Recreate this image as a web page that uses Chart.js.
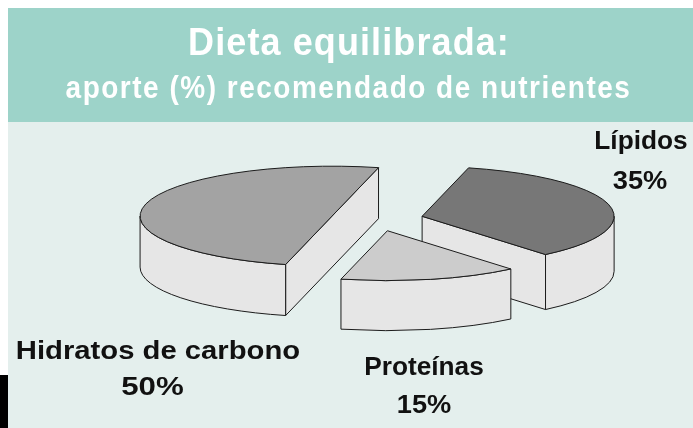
<!DOCTYPE html>
<html><head><meta charset="utf-8">
<style>html,body{margin:0;padding:0;background:#fff;overflow:hidden}#w{position:relative;width:693px;height:428px}</style>
<script src="https://cdn.jsdelivr.net/npm/chart.js@4"></script>
</head><body><div id="w"><canvas id="c" width="693" height="428"></canvas></div>
<script>
const titleMain = 'Dieta equilibrada:';
const titleSub = 'aporte (%) recomendado de nutrientes';
const categories = ['Lípidos', 'Proteínas', 'Hidratos de carbono'];
const values = [35, 15, 50];
const valueLabels = ['35%', '15%', '50%'];
const sliceColors = ['#777777', '#cccccc', '#a3a3a3'];

const SQUASH = 0.26, EXPLODE = 46.3, WALL = '#e6e6e6', EDGE = '#1c1c1c';
const wallDepths = [55, 50, 51];
const labelStyle = [
  {x: 641, y: 149, sx: 1.05, vx: 640, vy: 189, vsx: 1.09},
  {x: 424, y: 375, sx: 1.05, vx: 424, vy: 413, vsx: 1.09},
  {x: 158, y: 359, sx: 1.17, vx: 152.5, vy: 395, vsx: 1.25}
];

function centre(chart){ return (chart.chartArea.top + chart.chartArea.bottom) / 2; }
function geom(el, cy){
  return {x: el.x, dy: el.y - cy, s: el.startAngle, e: el.endAngle, r: el.outerRadius};
}
const TAU = Math.PI * 2;
function drawWalls(chart, ctx){
  const cy = centre(chart), arcs = chart.getDatasetMeta(0).data;
  const order = arcs.map((a, i) => i).sort((a, b) => arcs[a].y - arcs[b].y);
  ctx.save();
  ctx.fillStyle = WALL; ctx.strokeStyle = EDGE; ctx.lineWidth = 1; ctx.lineJoin = 'round';
  for (const i of order) {
    const g = geom(arcs[i], cy), d = wallDepths[i];
    const ax = g.x, ay = cy + g.dy * SQUASH, ry = g.r * SQUASH;
    const rim = (t) => [ax + Math.cos(t) * g.r, ay + Math.sin(t) * ry];
    const face = (p, q) => {
      ctx.beginPath(); ctx.moveTo(p[0], p[1]); ctx.lineTo(q[0], q[1]);
      ctx.lineTo(q[0], q[1] + d); ctx.lineTo(p[0], p[1] + d); ctx.closePath();
      ctx.fill(); ctx.stroke();
    };
    const showS = Math.sin(g.s - Math.PI / 2) > 0, showE = Math.sin(g.e + Math.PI / 2) > 0;
    if (showS && showE) face(rim(g.s), rim(g.e));
    else if (showS) face([ax, ay], rim(g.s));
    else if (showE) face([ax, ay], rim(g.e));
    for (const k of [-1, 0, 1]) {
      const a = Math.max(g.s, k * TAU), b = Math.min(g.e, k * TAU + Math.PI);
      if (b <= a) continue;
      ctx.beginPath();
      ctx.ellipse(ax, ay, g.r, ry, 0, a, b);
      ctx.ellipse(ax, ay + d, g.r, ry, 0, b, a, true);
      ctx.closePath(); ctx.fill(); ctx.stroke();
    }
  }
  ctx.restore();
}
function squash(ctx, cy){ ctx.translate(0, cy); ctx.scale(1, SQUASH); ctx.translate(0, -cy); }
function spaced(ctx, text, cx, y, font, spacing, sx, sy){
  ctx.save();
  ctx.font = font; ctx.letterSpacing = spacing + 'px';
  ctx.textAlign = 'center'; ctx.textBaseline = 'alphabetic';
  ctx.translate(cx, y); ctx.scale(sx, sy || 1);
  ctx.fillText(text, 0, 0);
  ctx.restore();
}
const pie3d = {
  id: 'pie3d',
  afterDatasetsUpdate(chart){
    for (const el of chart.getDatasetMeta(0).data) {
      const mid = (el.startAngle + el.endAngle) / 2;
      el.x += Math.cos(mid) * EXPLODE;
      el.y += Math.sin(mid) * EXPLODE;
    }
  },
  beforeDraw(chart){
    const c = chart.ctx;
    c.save();
    c.fillStyle = '#e4efed'; c.fillRect(8, 122, 685, 306);
    c.fillStyle = '#9dd3c9'; c.fillRect(8, 8, 685, 114);
    c.fillStyle = '#000000'; c.fillRect(0, 375, 8, 53);
    c.fillStyle = '#ffffff';
    spaced(c, titleMain, 349, 55, 'bold 36px "Liberation Sans"', 1.1, 1, 1.08);
    spaced(c, titleSub, 348.5, 98, 'bold 28px "Liberation Sans"', 1.5, 1, 1.1);
    c.restore();
  },
  beforeDatasetDraw(chart){
    const c = chart.ctx;
    drawWalls(chart, c);
    c.save();
    squash(c, centre(chart));
  },
  afterDatasetDraw(chart){
    const c = chart.ctx, cy = centre(chart);
    c.restore();
    c.save();
    c.strokeStyle = EDGE; c.lineWidth = 1; c.lineJoin = 'round';
    for (const el of chart.getDatasetMeta(0).data) {
      const g = geom(el, cy), ay = cy + g.dy * SQUASH;
      c.beginPath();
      c.moveTo(g.x, ay);
      c.ellipse(g.x, ay, g.r, g.r * SQUASH, 0, g.s, g.e);
      c.closePath(); c.stroke();
    }
    c.restore();
  },
  afterDraw(chart){
    const c = chart.ctx;
    c.save();
    c.fillStyle = '#111111';
    categories.forEach((name, i) => {
      const p = labelStyle[i];
      spaced(c, name, p.x, p.y, 'bold 25px "Liberation Sans"', 0, p.sx);
      spaced(c, valueLabels[i], p.vx, p.vy, 'bold 25px "Liberation Sans"', 0, p.vsx);
    });
    c.restore();
  }
};
new Chart(document.getElementById('c'), {
  type: 'pie',
  data: {labels: categories, datasets: [{
    data: values, backgroundColor: sliceColors, borderWidth: 0, clip: false
  }]},
  options: {
    responsive: false, animation: false, rotation: 14, radius: 192,
    layout: {padding: {left: 61, top: 10}},
    plugins: {legend: {display: false}, tooltip: {enabled: false}}
  },
  plugins: [pie3d]
});
</script></body></html>
